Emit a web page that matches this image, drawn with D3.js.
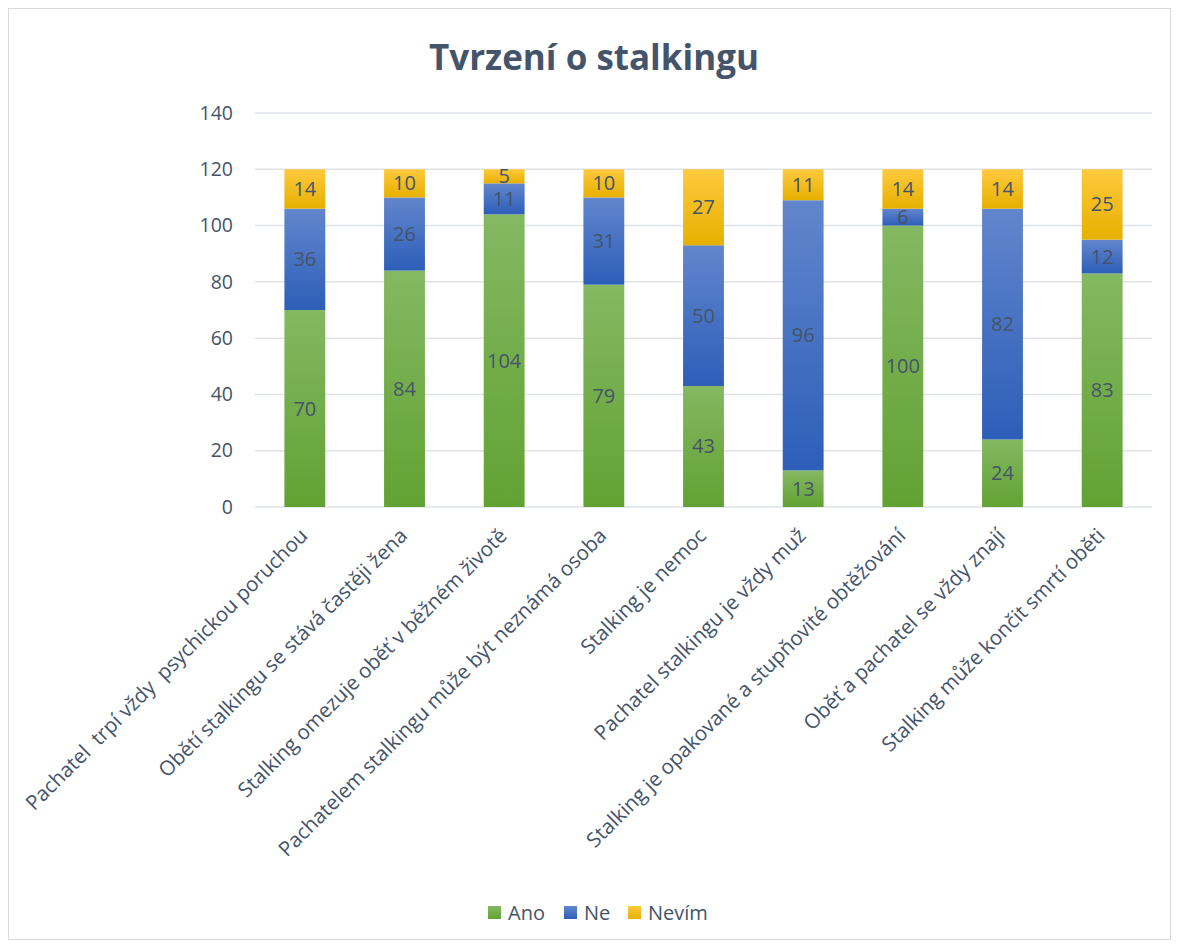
<!DOCTYPE html>
<html>
<head>
<meta charset="utf-8">
<script src="https://cdn.jsdelivr.net/npm/d3@7"></script>
<style>
  body { margin: 0; background: #fff; }
  text { font-family: "Open Sans", "Liberation Sans", sans-serif; fill: #44546a; }
</style>
</head>
<body>
<svg id="chart" width="1179" height="947"></svg>
<script>
// data
var categories = [
    "Pachatel  trpí vždy  psychickou poruchou",
    "Obětí stalkingu se stává častěji žena",
    "Stalking omezuje oběť v běžném životě",
    "Pachatelem stalkingu může být neznámá osoba",
    "Stalking je nemoc",
    "Pachatel stalkingu je vždy muž",
    "Stalking je opakované a stupňovité obtěžování",
    "Oběť a pachatel se vždy znají",
    "Stalking může končit smrtí oběti"
];
var seriesNames = ["Ano", "Ne", "Nevím"];
var ano   = [70, 84, 104, 79, 43, 13, 100, 24, 83];
var ne    = [36, 26, 11, 31, 50, 96, 6, 82, 12];
var nevim = [14, 10, 5, 10, 27, 11, 14, 14, 25];
var yTicks = [0, 20, 40, 60, 80, 100, 120, 140];

var svg = d3.select("#chart");
var width = +svg.attr("width");
var height = +svg.attr("height");

// colours (top, bottom of gradient)
var grads = [
    ["#84b862", "#62a233"],
    ["#6286cd", "#2d5eb8"],
    ["#ffc93e", "#e6b000"]
];

var defs = svg.append("defs");
grads.forEach(function(g, i){
    var lg = defs.append("linearGradient")
        .attr("id", "grad" + i)
        .attr("x1", 0).attr("y1", 0).attr("x2", 0).attr("y2", 1);
    lg.append("stop").attr("offset", "0%").attr("stop-color", g[0]);
    lg.append("stop").attr("offset", "100%").attr("stop-color", g[1]);
});

// chart border
svg.append("rect")
    .attr("x", 8.5).attr("y", 8.5)
    .attr("width", width - 17).attr("height", height - 16)
    .attr("fill", "none")
    .attr("stroke", "#d9d9d9")
    .attr("stroke-width", 1);

// title
svg.append("text")
    .attr("x", 594).attr("y", 70)
    .attr("text-anchor", "middle")
    .style("font-size", "35px")
    .style("font-weight", "bold")
    .text("Tvrzení o stalkingu");

var margin = {left: 255, right: 1152, top: 113, bottom: 507};

var x = d3.scaleBand()
    .domain(categories)
    .range([margin.left, margin.right])
    .paddingInner(0.59)
    .paddingOuter(0.295);

var y = d3.scaleLinear()
    .domain([0, 140])
    .range([margin.bottom, margin.top]);

// gridlines
svg.append("g").attr("class", "grid")
    .selectAll("line")
    .data(yTicks)
    .enter().append("line")
    .attr("x1", margin.left).attr("x2", margin.right)
    .attr("y1", function(d){ return y(d); })
    .attr("y2", function(d){ return y(d); })
    .attr("stroke", "#dfe3e8")
    .attr("stroke-width", 1.5);

// y axis labels
var yAxis = d3.axisLeft(y).tickValues(yTicks).tickSize(0).tickPadding(22);
var gy = svg.append("g")
    .attr("transform", "translate(" + margin.left + ",0)")
    .call(yAxis);
gy.select(".domain").remove();
gy.selectAll("text")
    .style("font-size", "19.5px")
    .style("font-family", "'Open Sans', sans-serif")
    .attr("fill", "#44546a");

// stack
var table = categories.map(function(c, i){
    return {cat: c, "Ano": ano[i], "Ne": ne[i], "Nevím": nevim[i]};
});
var stack = d3.stack().keys(seriesNames)(table);

var layers = svg.append("g").attr("class", "bars")
    .selectAll("g")
    .data(stack)
    .enter().append("g")
    .attr("fill", function(d, i){ return "url(#grad" + i + ")"; });

layers.selectAll("rect")
    .data(function(d){ return d; })
    .enter().append("rect")
    .attr("x", function(d){ return x(d.data.cat); })
    .attr("width", x.bandwidth())
    .attr("y", function(d){ return y(d[1]); })
    .attr("height", function(d){ return y(d[0]) - y(d[1]); });

// data labels
layers.selectAll("text")
    .data(function(d){ return d; })
    .enter().append("text")
    .attr("x", function(d){ return x(d.data.cat) + x.bandwidth() / 2; })
    .attr("y", function(d){ return (y(d[0]) + y(d[1])) / 2; })
    .attr("dy", "0.35em")
    .attr("text-anchor", "middle")
    .style("font-size", "20px")
    .text(function(d){ return d[1] - d[0]; });

// category labels
svg.append("g").attr("class", "xlabels")
    .selectAll("text")
    .data(categories)
    .enter().append("text")
    .attr("transform", function(d){
        return "translate(" + (x(d) + x.bandwidth() / 2 + 4) + "," + 537 + ") rotate(-45)";
    })
    .attr("text-anchor", "end")
    .style("font-size", "20.5px")
    .style("white-space", "pre")
    .text(function(d){ return d; });

// legend
var legendX = [488, 564, 628];
var legend = svg.append("g").attr("class", "legend")
    .selectAll("g")
    .data(seriesNames)
    .enter().append("g")
    .attr("transform", function(d, i){ return "translate(" + legendX[i] + ",906)"; });
legend.append("rect")
    .attr("width", 13).attr("height", 13)
    .attr("fill", function(d, i){ return "url(#grad" + i + ")"; });
legend.append("text")
    .attr("x", 20).attr("y", 6.5)
    .attr("dy", "0.36em")
    .style("font-size", "20px")
    .text(function(d){ return d; });
</script>
</body>
</html>
